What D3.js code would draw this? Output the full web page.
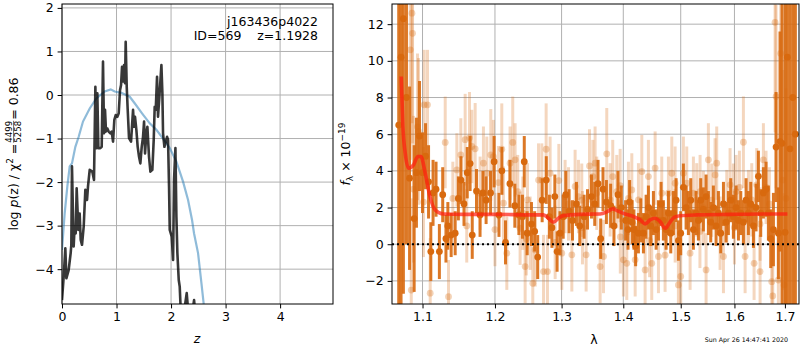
<!DOCTYPE html>
<html>
<head>
<meta charset="utf-8">
<script src="https://cdn.jsdelivr.net/npm/d3@7"></script>
<style>
body { margin: 0; background: #fff; }
svg text { font-family: "DejaVu Sans", sans-serif; }
</style>
</head>
<body>
<div id="chart"></div>
<script>

// LEFT PANEL DATA: log p(z) (black) and prior-like curve (blue)
const pzCurve = [
    [0.000,-4.71],[0.031,-4.17],[0.061,-3.52],[0.080,-4.21],[0.122,-4.02],[0.159,-3.63],
    [0.171,-3.44],[0.183,-1.64],[0.214,-3.48],[0.232,-3.02],[0.251,-3.18],[0.269,-2.14],
    [0.300,-3.10],[0.324,-2.72],[0.343,-3.33],[0.367,-3.44],[0.398,-3.02],[0.428,-2.18],
    [0.459,-2.41],[0.477,-2.10],[0.508,-1.72],[0.557,-1.76],[0.587,-1.95],[0.612,0.19],
    [0.630,-1.22],[0.648,0.04],[0.667,-1.22],[0.703,-1.22],[0.728,-1.19],[0.752,0.77],
    [0.771,-0.88],[0.789,-0.34],[0.807,-0.84],[0.832,-0.77],[0.856,-0.84],[0.887,-0.88],
    [0.911,-0.84],[0.936,-1.07],[0.960,-0.57],[0.985,-0.46],[1.015,-0.50],[1.040,-0.42],
    [1.064,0.11],[1.083,0.23],[1.101,0.65],[1.119,0.31],[1.138,0.69],[1.156,0.27],
    [1.168,1.22],[1.187,0.19],[1.205,-0.34],[1.229,-0.99],[1.266,-1.07],[1.303,-0.34],
    [1.321,-0.73],[1.339,-0.50],[1.364,-0.80],[1.388,-1.19],[1.413,-1.42],[1.437,-1.57],
    [1.462,-1.19],[1.486,-0.96],[1.505,-0.61],[1.523,-1.34],[1.547,-0.88],[1.566,-0.73],
    [1.596,-1.42],[1.621,-1.76],[1.657,-1.72],[1.682,-1.03],[1.700,-0.27],[1.719,-0.34],
    [1.743,0.42],[1.761,-0.50],[1.786,-0.04],[1.823,0.69],[1.841,0.04],[1.853,-0.88],
    [1.878,-1.19],[1.927,-0.96],[1.945,-1.03],[1.963,-2.10],[1.976,-3.10],[2.012,-3.25],
    [2.037,-3.79],[2.055,-1.95],[2.080,-1.22],[2.098,-2.79],[2.116,-3.63],[2.141,-4.25],
    [2.159,-4.40],[2.177,-4.93],[2.220,-5.16],[2.269,-4.71],[2.287,-4.55],[2.312,-4.93],
    [2.373,-5.16],[2.422,-4.71],[2.453,-5.16],[2.600,-5.60]
];

const priorCurve = [
    [0.000,-3.56],[0.049,-2.72],[0.098,-2.10],[0.141,-1.64],[0.183,-1.57],[0.245,-1.19],
    [0.306,-0.96],[0.385,-0.61],[0.508,-0.31],[0.630,-0.08],[0.783,0.08],[0.893,0.13],
    [0.966,0.08],[1.089,0.05],[1.242,-0.04],[1.333,-0.19],[1.468,-0.42],[1.609,-0.65],
    [1.731,-0.80],[1.853,-1.00],[1.976,-1.22],[2.098,-1.53],[2.220,-1.99],[2.312,-2.41],
    [2.385,-2.87],[2.422,-3.18],[2.495,-3.63],[2.557,-4.32],[2.599,-4.80],[2.650,-5.40]
];

const zTicks = [0, 1, 2, 3, 4];
const pzTicks = [-4, -3, -2, -1, 0, 1, 2];

// RIGHT PANEL DATA: [wavelength, flux, error]
const darkPoints = [
    [1.069,6.5,14],[1.072,10.2,14],[1.075,12.3,15],[1.079,8.0,8],[1.083,3.6,5],[1.089,1.4,4],
    [1.092,3.9,3],[1.096,5.9,3],[1.100,3.9,2.2],[1.104,4.8,1.8],[1.108,3.4,2.0],[1.111,-0.4,1.6],
    [1.114,2.8,1.8],[1.118,3.0,1.5],[1.1225,-0.4,1.5],[1.127,2.7,1.5],[1.1314,0.3,1.3],[1.134,1.0,1.3],
    [1.1385,0.5,1.2],[1.144,0.6,1.2],[1.1484,2.5,1.2],[1.152,3.5,1.3],[1.1562,2.2,1.2],[1.1607,3.9,1.4],
    [1.1647,4.4,1.5],[1.1677,0.5,1.3],[1.1737,2.9,1.2],[1.1787,1.6,1.2],[1.1828,2.8,1.2],[1.1873,2.4,1.3],
    [1.1937,2.8,1.2],[1.1988,4.5,1.4],[1.2058,1.6,1.2],[1.2100,4.0,1.3],[1.2153,0.1,1.2],[1.2218,3.3,1.3],
    [1.2290,2.1,1.2],[1.2350,1.6,1.1],[1.2403,1.5,1.2],[1.2430,4.5,1.4],[1.2474,0.6,1.2],[1.2538,1.1,1.2],
    [1.2586,0.7,1.1],[1.2632,-0.7,1.2],[1.2700,2.4,1.2],[1.2763,3.5,1.3],[1.2810,1.5,1.2],[1.2850,0.9,1.1],
    [1.2895,2.6,1.2],[1.2930,-0.4,1.1],[1.2975,0.6,1.2],[1.3025,1.5,1.2],[1.3066,2.7,1.3],[1.3118,1.8,1.2],
    [1.3171,1.3,1.1],[1.3234,2.2,1.2],[1.3287,1.0,1.1],[1.3356,1.5,1.2],[1.3411,1.9,1.1],[1.3475,2.6,1.2],
    [1.3528,2.2,1.2],[1.3582,3.3,1.3],[1.3625,0.3,1.1],[1.3663,3.0,1.2],[1.3719,2.3,1.2],[1.3789,2.1,1.2],
    [1.3844,1.0,1.1],[1.3911,2.7,1.3],[1.3967,2.0,1.2],[1.4039,1.3,1.1],[1.4080,0.8,1.1],[1.4107,2.3,1.2],
    [1.4150,1.2,1.2],[1.4180,0.8,1.1],[1.4209,-0.1,1.1],[1.4257,0.6,1.1],[1.4297,1.3,1.2],[1.4343,0.6,1.1],
    [1.4389,1.5,1.2],[1.4429,2.0,1.2],[1.4470,1.0,1.1],[1.4516,1.7,1.2],[1.4563,0.8,1.1],[1.4604,1.3,1.1],
    [1.4650,2.2,1.2],[1.4691,1.3,1.1],[1.4739,0.8,1.1],[1.4780,1.7,1.2],[1.4822,0.6,1.1],[1.4869,1.7,1.2],
    [1.4917,2.4,1.2],[1.4958,0.2,1.1],[1.5000,0.6,1.2],[1.5048,3.1,1.3],[1.5097,2.0,1.2],[1.5139,1.7,1.2],
    [1.5182,2.4,1.2],[1.5230,0.8,1.1],[1.5279,1.7,1.2],[1.5322,1.3,1.1],[1.5365,2.4,1.2],[1.5414,1.9,1.2],
    [1.5464,2.6,1.2],[1.5507,1.7,1.2],[1.5551,1.2,1.1],[1.5600,2.0,1.2],[1.5651,1.0,1.1],[1.5695,1.7,1.2],
    [1.5739,0.6,1.1],[1.5790,2.2,1.2],[1.5840,1.2,1.1],[1.5884,1.7,1.2],[1.5929,2.4,1.2],[1.5980,1.5,1.2],
    [1.6032,2.0,1.2],[1.6077,1.3,1.1],[1.6122,1.7,1.2],[1.6173,1.2,1.2],[1.6225,2.4,1.2],[1.6270,1.7,1.2],
    [1.6316,2.2,1.2],[1.6369,1.0,1.2],[1.6421,2.0,1.3],[1.6467,3.7,1.4],[1.6513,1.7,1.3],[1.6566,2.8,1.4],
    [1.6619,3.0,1.5],[1.6666,1.7,1.5],[1.6713,0.3,1.6],[1.6767,0.8,2.0],[1.6820,5.3,3],[1.6867,0.6,2.5],
    [1.6900,5.6,6],[1.6941,5.5,9],[1.7003,0.65,14],[1.7050,10.2,15],[1.7104,5.2,15],[1.7160,8.0,16],
    [1.7215,6.0,16]
];

const lightPoints = [
    [1.0839,10.6,6],[1.0852,-2.5,5],[1.0861,12.6,6],[1.0869,11.5,6],[1.0882,3.0,4],[1.0934,6.4,4],
    [1.0947,6.15,4],[1.1013,2.3,3],[1.1022,7.6,3],[1.1066,7.6,3],[1.1102,-2.67,3],[1.1304,5.55,2.5],
    [1.1349,-2.86,2],[1.1408,2.5,2],[1.1463,4.05,2],[1.1518,4.87,2],[1.1578,5.7,2.5],[1.1600,1.0,2],
    [1.1639,5.8,2.5],[1.1671,5.33,2],[1.1718,5.2,2.5],[1.1788,2.78,2],[1.1835,4.42,2],[1.1883,3.87,2],
    [1.1940,4.87,2.5],[1.1978,4.78,2],[1.2000,0.8,2],[1.2050,3.36,2],[1.2099,5.18,2.5],[1.2123,2.24,2],
    [1.2172,-0.49,2],[1.2220,4.42,2],[1.2259,5.55,2.5],[1.2294,4.6,2],[1.2333,2.87,2],[1.2368,0.87,2],
    [1.2408,1.69,2],[1.2443,-1.22,2],[1.2460,0.3,2],[1.2478,2.42,2],[1.2518,0.6,2],[1.2558,-2.13,2],
    [1.2594,-0.31,2],[1.2645,3.5,2],[1.2695,3.5,2],[1.2721,-1.49,2],[1.2761,5.18,2.5],[1.2781,-1.49,2],
    [1.2822,3.87,2],[1.2900,0.1,2],[1.2957,3.47,2],[1.3003,-0.49,2],[1.3055,2.6,2],[1.3108,2.2,2],
    [1.3161,-0.58,2],[1.3213,3.15,2],[1.3266,2.6,2],[1.3319,2.4,2],[1.3330,0.9,2],[1.3389,-0.58,2],
    [1.3443,4.27,2],[1.3497,3.69,2],[1.3534,4.42,2],[1.3561,2.78,2],[1.3616,-1.22,2],[1.3671,-0.67,2],
    [1.3725,4.93,2.5],[1.3780,2.42,2],[1.3824,3.69,2],[1.3891,2.87,2],[1.3947,3.2,2],[1.3950,0.4,2],
    [1.4002,-0.85,2],[1.4059,-1.04,2],[1.4087,2.5,2],[1.4144,2.96,2],[1.4201,-0.85,2],[1.4257,2.42,2],
    [1.4315,3.96,2],[1.4372,-1.4,2],[1.4429,3.69,2],[1.4450,0.2,2],[1.4487,-1.04,2],[1.4546,4.15,2],
    [1.4604,-0.67,2],[1.4662,2.78,2],[1.4721,-0.6,2],[1.4780,2.78,2],[1.4840,3.87,2],[1.4899,3.33,2],
    [1.4900,1.0,2],[1.4958,-2.22,2],[1.5000,-1.76,2],[1.5048,3.87,2],[1.5109,3.33,2],[1.5170,-0.49,2],
    [1.5230,2.78,2],[1.5291,2.42,2],[1.5350,0.7,2],[1.5353,2.87,2],[1.5414,2.0,2],[1.5464,-1.4,2],
    [1.5507,4.6,2],[1.5569,2.4,2],[1.5632,3.78,2],[1.5663,4.42,2],[1.5726,0.6,2],[1.5790,-0.67,2],
    [1.5853,2.05,2],[1.5916,3.24,2],[1.5980,2.4,2],[1.6000,0.9,2],[1.6032,2.87,2],[1.6096,3.1,2],
    [1.6173,5.56,2.5],[1.6206,-0.67,2],[1.6271,2.05,2],[1.6336,2.42,2],[1.6382,-1.04,2],[1.6434,3.24,2],
    [1.6500,-1.49,2],[1.6500,1.1,2],[1.6566,4.6,2],[1.6619,3.1,2],[1.6686,2.2,2],[1.6733,-2.04,3],
    [1.6753,-2.82,3],[1.6800,12.1,6],[1.6820,8.05,5],[1.6867,-1.95,4],[1.6914,10.4,6],[1.6955,3.5,6],
    [1.6982,-2.22,5],[1.7023,2.5,6]
];

const modelCurve = [
    [1.0722,9.14],[1.0744,6.42],[1.0774,4.96],[1.0817,4.15],[1.0882,4.33],[1.0939,4.78],
    [1.0979,4.78],[1.1036,3.87],[1.1093,2.69],[1.1169,1.87],[1.1281,1.65],[1.1555,1.63],
    [1.2028,1.63],[1.2518,1.60],[1.2720,1.60],[1.2796,1.42],[1.2873,1.20],[1.2951,1.42],
    [1.3029,1.56],[1.3293,1.63],[1.3616,1.65],[1.3726,1.76],[1.3825,1.93],[1.3902,1.82],
    [1.4031,1.65],[1.4171,1.51],[1.4286,1.33],[1.4372,1.11],[1.4458,1.33],[1.4545,1.42],
    [1.4633,1.24],[1.4721,0.87],[1.4797,1.15],[1.4881,1.47],[1.4989,1.55],[1.5292,1.60],
    [1.5916,1.63],[1.6566,1.65],[1.7050,1.65]
];

const waveTicks = [1.1, 1.2, 1.3, 1.4, 1.5, 1.6, 1.7];
const fluxTicks = [-2, 0, 2, 4, 6, 8, 10, 12];

/**********************
***** BASIC SETUP *****
**********************/

const width = 800;
const height = 350;
const FONT = 12.5;
const darkColor = "#d8690e";

const svg = d3.select("#chart")
    .append("svg")
    .attr("width", width)
    .attr("height", height);

const leftBox = {x0: 62, x1: 333, y0: 4, y1: 304};
const rightBox = {x0: 392, x1: 799, y0: 4, y1: 304};

const zScale = d3.scaleLinear().domain([0, 4.97]).range([leftBox.x0, leftBox.x1]);
const pzScale = d3.scaleLinear().domain([-4.8, 2.09]).range([leftBox.y1, leftBox.y0]);
const waveScale = d3.scaleLog().domain([1.0604, 1.729]).range([rightBox.x0, rightBox.x1]);
const fluxScale = d3.scaleLinear().domain([-3.26, 13.1]).range([rightBox.y1, rightBox.y0]);

function addClip(id, box) {
    svg.append("clipPath").attr("id", id)
        .append("rect")
        .attr("x", box.x0).attr("y", box.y0)
        .attr("width", box.x1 - box.x0).attr("height", box.y1 - box.y0);
}
addClip("clipL", leftBox);
addClip("clipR", rightBox);

function drawGrid(box, x, y, xt, yt) {
    const g = svg.append("g").attr("class", "grid");
    g.selectAll(".gx").data(xt).enter().append("line")
        .attr("x1", d => x(d)).attr("x2", d => x(d))
        .attr("y1", box.y0).attr("y2", box.y1)
        .attr("stroke", "#b0b0b0").attr("stroke-width", 1);
    g.selectAll(".gy").data(yt).enter().append("line")
        .attr("x1", box.x0).attr("x2", box.x1)
        .attr("y1", d => y(d)).attr("y2", d => y(d))
        .attr("stroke", "#b0b0b0").attr("stroke-width", 1);
}

function drawAxes(box, x, y, xt, yt, xfmt, yfmt) {
    const ax = svg.append("g")
        .attr("transform", `translate(0,${box.y1})`)
        .call(d3.axisBottom(x).tickValues(xt).tickFormat(xfmt).tickSize(4.4).tickPadding(4));
    const ay = svg.append("g")
        .attr("transform", `translate(${box.x0},0)`)
        .call(d3.axisLeft(y).tickValues(yt).tickFormat(yfmt).tickSize(4.4).tickPadding(4));
    [ax, ay].forEach(a => {
        a.select(".domain").remove();
        a.selectAll("text").attr("font-size", FONT).attr("fill", "#000")
            .attr("font-family", "DejaVu Sans");
        a.selectAll("line").attr("stroke", "#000");
    });
    svg.append("rect")
        .attr("x", box.x0).attr("y", box.y0)
        .attr("width", box.x1 - box.x0).attr("height", box.y1 - box.y0)
        .attr("fill", "none").attr("stroke", "#000").attr("stroke-width", 1);
}

/*****************
***** LEFT   *****
******************/

drawGrid(leftBox, zScale, pzScale, zTicks, pzTicks);

const leftPlot = svg.append("g").attr("clip-path", "url(#clipL)");

const pzLine = d3.line()
    .x(d => zScale(d[0]))
    .y(d => pzScale(d[1]));

leftPlot.append("path")
    .datum(priorCurve)
    .attr("d", pzLine)
    .attr("fill", "none")
    .attr("stroke", "#1f77b4")
    .attr("stroke-opacity", 0.5)
    .attr("stroke-width", 2.2);

leftPlot.append("path")
    .datum(pzCurve)
    .attr("d", pzLine)
    .attr("fill", "none")
    .attr("stroke", "#000")
    .attr("stroke-opacity", 0.78)
    .attr("stroke-width", 2.6)
    .attr("stroke-linejoin", "round");

drawAxes(leftBox, zScale, pzScale, zTicks, pzTicks, d3.format("d"), d3.format("d"));

svg.append("text")
    .attr("x", 318).attr("y", 26)
    .attr("text-anchor", "end")
    .attr("font-size", FONT)
    .text("j163436p4022");
svg.append("text")
    .attr("x", 318).attr("y", 40)
    .attr("text-anchor", "end")
    .attr("font-size", FONT)
    .style("white-space", "pre")
    .text("ID=569    z=1.1928");

svg.append("text")
    .attr("x", 197).attr("y", 343)
    .attr("text-anchor", "middle")
    .attr("font-size", FONT)
    .attr("font-style", "italic")
    .text("z");

// y label with the stacked fraction
const yl = svg.append("g").attr("transform", "translate(18,154) rotate(-90)");
const ylInner = yl.append("g");
const t1 = ylInner.append("text").attr("font-size", FONT);
t1.append("tspan").text("log ");
t1.append("tspan").attr("font-style", "italic").text("p");
t1.append("tspan").text("(z) / \u03c7");
t1.append("tspan").attr("font-size", 9).attr("dy", -5).text("2");
t1.append("tspan").attr("dy", 5).text(" = ");
const w1 = t1.node().getComputedTextLength();
const num = ylInner.append("text").attr("font-size", 8.6).attr("x", w1 + 1).attr("y", -6).text("4499");
const den = ylInner.append("text").attr("font-size", 8.6).attr("x", w1 + 1).attr("y", 2.5).text("5258");
const wf = Math.max(num.node().getComputedTextLength(), den.node().getComputedTextLength());
ylInner.append("line")
    .attr("x1", w1 + 1).attr("x2", w1 + 1 + wf)
    .attr("y1", -4.4).attr("y2", -4.4)
    .attr("stroke", "#000").attr("stroke-width", 0.6);
const t2 = ylInner.append("text").attr("font-size", FONT).attr("x", w1 + wf + 2).text(" = 0.86");
const wTot = w1 + wf + 2 + t2.node().getComputedTextLength();
ylInner.attr("transform", `translate(${-wTot / 2},0)`);

/*****************
***** RIGHT  *****
******************/

drawGrid(rightBox, waveScale, fluxScale, waveTicks, fluxTicks);

const rightPlot = svg.append("g").attr("clip-path", "url(#clipR)");

// light points (second set, faint)
rightPlot.selectAll(".lightBar")
    .data(lightPoints)
    .enter()
    .append("line")
    .attr("class", "lightBar")
    .attr("x1", d => waveScale(d[0])).attr("x2", d => waveScale(d[0]))
    .attr("y1", d => fluxScale(d[1] - d[2])).attr("y2", d => fluxScale(d[1] + d[2]))
    .attr("stroke", darkColor).attr("stroke-opacity", 0.27).attr("stroke-width", 3);

rightPlot.selectAll(".lightPt")
    .data(lightPoints)
    .enter()
    .append("circle")
    .attr("class", "lightPt")
    .attr("cx", d => waveScale(d[0]))
    .attr("cy", d => fluxScale(d[1]))
    .attr("r", 3.4)
    .attr("fill", darkColor).attr("fill-opacity", 0.3);

// dark points
rightPlot.selectAll(".darkBar")
    .data(darkPoints)
    .enter()
    .append("line")
    .attr("class", "darkBar")
    .attr("x1", d => waveScale(d[0])).attr("x2", d => waveScale(d[0]))
    .attr("y1", d => fluxScale(d[1] - d[2])).attr("y2", d => fluxScale(d[1] + d[2]))
    .attr("stroke", darkColor).attr("stroke-opacity", 0.9).attr("stroke-width", 3);

rightPlot.selectAll(".darkPt")
    .data(darkPoints)
    .enter()
    .append("circle")
    .attr("class", "darkPt")
    .attr("cx", d => waveScale(d[0]))
    .attr("cy", d => fluxScale(d[1]))
    .attr("r", 3.4)
    .attr("fill", darkColor);

const modelLine = d3.line()
    .x(d => waveScale(d[0]))
    .y(d => fluxScale(d[1]))
    .curve(d3.curveMonotoneX);

rightPlot.append("path")
    .datum(modelCurve)
    .attr("d", modelLine)
    .attr("fill", "none")
    .attr("stroke", "#ff1e10")
    .attr("stroke-opacity", 0.72)
    .attr("stroke-width", 3.6)
    .attr("stroke-linejoin", "round");

rightPlot.append("line")
    .attr("x1", rightBox.x0).attr("x2", rightBox.x1)
    .attr("y1", fluxScale(0)).attr("y2", fluxScale(0))
    .attr("stroke", "#000")
    .attr("stroke-width", 2)
    .attr("stroke-dasharray", "2,3");

drawAxes(rightBox, waveScale, fluxScale, waveTicks, fluxTicks, d3.format(".1f"), d3.format("d"));

svg.append("text")
    .attr("x", 594).attr("y", 344)
    .attr("text-anchor", "middle")
    .attr("font-size", FONT)
    .text("\u03bb");

const yr = svg.append("text")
    .attr("transform", "translate(350,154) rotate(-90)")
    .attr("text-anchor", "middle")
    .attr("font-size", FONT);
yr.append("tspan").attr("font-style", "italic").text("f");
yr.append("tspan").attr("font-size", 9).attr("dy", 3).text("\u03bb");
yr.append("tspan").attr("dy", -3).text(" \u00d7 10");
yr.append("tspan").attr("font-size", 9).attr("dy", -5).text("\u221219");

svg.append("text")
    .attr("x", 788).attr("y", 342)
    .attr("text-anchor", "end")
    .attr("font-size", 6.3)
    .text("Sun Apr 26 14:47:41 2020");

</script>
</body>
</html>
